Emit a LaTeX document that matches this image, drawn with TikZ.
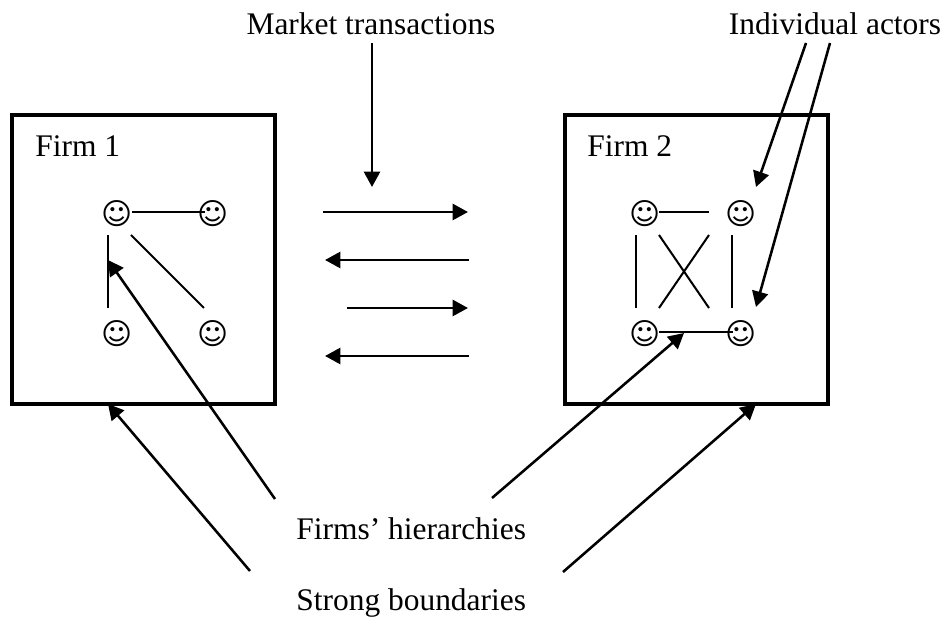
\documentclass[tikz,border=0pt]{standalone}
\usepackage{fontspec}
\setmainfont{Liberation Serif}
\newfontfamily\symfont{DejaVu Sans}
\usetikzlibrary{arrows.meta}
\tikzset{
lab/.style={inner sep=0pt,font=\fontsize{17.9}{20}\selectfont},
face/.style={inner sep=0pt,font=\symfont\fontsize{17}{18}\selectfont},
firm/.style={draw=black,line width=2pt},
tie/.style={line width=1.15pt},
flow/.style={-{Triangle[length=8.8pt,width=9.2pt]},line width=1.45pt},
pt/.style={inner sep=0pt,minimum size=0pt}
}
\begin{document}
\begin{tikzpicture}[x=0.02cm,y=-0.02cm]
\useasboundingbox (0,0) rectangle (946,617);
\node[firm,pt,minimum width=5.26cm,minimum height=5.78cm] (firm1) at (143.5,259.5) {};
\node[firm,pt,minimum width=5.26cm,minimum height=5.78cm] (firm2) at (696.5,259.5) {};
\node[lab,anchor=base west] (f1) at (35,157) {Firm 1};
\node[lab,anchor=base west] (f2) at (587,157) {Firm 2};
\node[lab,anchor=base] (market) at (371,35) {Market transactions};
\node[lab,anchor=base] (actors) at (835,35) {Individual actors};
\node[lab,anchor=base west] (hier) at (296,540) {Firms’ hierarchies};
\node[lab,anchor=base west] (bound) at (296,610) {Strong boundaries};
\node[face] (a) at (117,214) {☺};
\node[face] (b) at (213,214) {☺};
\node[face] (c) at (117,334) {☺};
\node[face] (d) at (213,334) {☺};
\node[face] (e) at (645,214) {☺};
\node[face] (f) at (741,214) {☺};
\node[face] (g) at (645,334) {☺};
\node[face] (h) at (741,334) {☺};
% ties of firm 1
\coordinate (a1) at (132,212); \coordinate (b1) at (205,212);
\coordinate (a2) at (108,235); \coordinate (c2) at (108,308);
\coordinate (a3) at (131,235); \coordinate (d3) at (204,308);
\draw[tie] (a1) -- (b1);
\draw[tie] (a2) -- (c2);
\draw[tie] (a3) -- (d3);
% ties of firm 2
\coordinate (e1) at (659,212); \coordinate (f1b) at (709,212);
\coordinate (e2) at (636,235); \coordinate (g2) at (636,308);
\coordinate (f2b) at (732,235); \coordinate (h2) at (732,308);
\coordinate (e3) at (659,235); \coordinate (h3) at (709,308);
\coordinate (f3) at (709,235); \coordinate (g3) at (659,308);
\coordinate (g1) at (659,332); \coordinate (h1) at (733,332);
\draw[tie] (e1) -- (f1b);
\draw[tie] (e2) -- (g2);
\draw[tie] (f2b) -- (h2);
\draw[tie] (e3) -- (h3);
\draw[tie] (f3) -- (g3);
\draw[tie] (g1) -- (h1);
% transactions
\coordinate (m1) at (323,212); \coordinate (m2) at (468,212);
\coordinate (m3) at (469,260); \coordinate (m4) at (325,260);
\coordinate (m5) at (347,308); \coordinate (m6) at (468,308);
\coordinate (m7) at (469,356); \coordinate (m8) at (325,356);
\draw[flow] (m1) -- (m2);
\draw[flow] (m3) -- (m4);
\draw[flow] (m5) -- (m6);
\draw[flow] (m7) -- (m8);
% pointers from the labels
\coordinate (p1) at (372,43); \coordinate (q1) at (372,187);
\coordinate (p2) at (806,43); \coordinate (q2) at (756,187);
\coordinate (p3) at (830,43); \coordinate (q3) at (756,307);
\coordinate (p4) at (275,499); \coordinate (q4) at (108,260);
\coordinate (p5) at (492,498); \coordinate (q5) at (684,333);
\coordinate (p6) at (250,571); \coordinate (q6) at (108,404);
\coordinate (p7) at (563,572); \coordinate (q7) at (756,404);
\draw[flow] (p1) -- (q1);
\draw[flow] (p2) -- (q2);
\draw[flow] (p3) -- (q3);
\draw[flow] (p4) -- (q4);
\draw[flow] (p5) -- (q5);
\draw[flow] (p6) -- (q6);
\draw[flow] (p7) -- (q7);
\end{tikzpicture}
\end{document}
